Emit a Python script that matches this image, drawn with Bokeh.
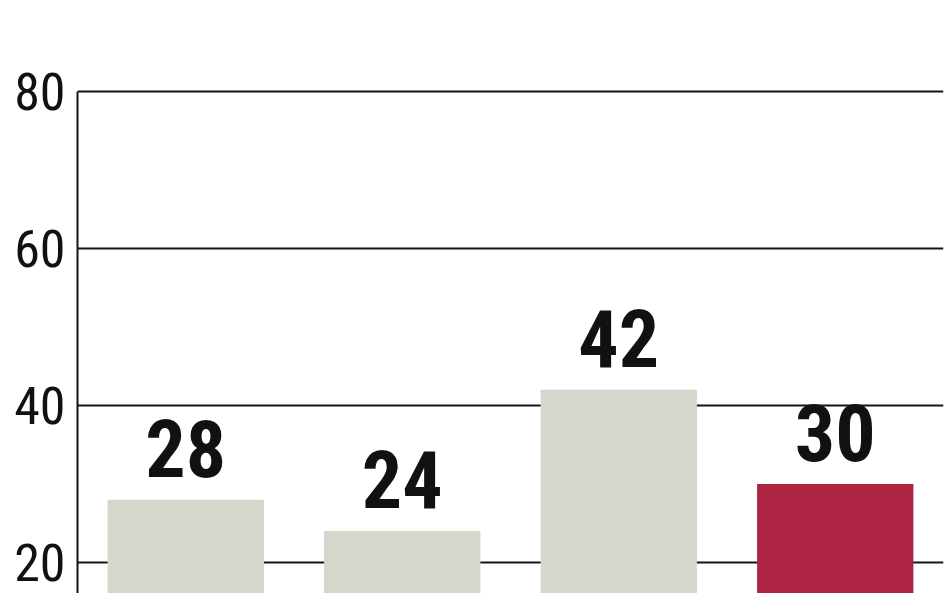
from bokeh.plotting import figure
from bokeh.models import FactorRange, Range1d, ColumnDataSource, FixedTicker, LabelSet
from bokeh.core.properties import value
from bokeh.embed import file_html
from bokeh.resources import INLINE

categories = ["1", "2", "3", "4"]
values = [28, 24, 42, 30]
colors = ["#d5d6cc", "#d5d6cc", "#d5d6cc", "#ad2443"]
labels = ["28", "24", "42", "30"]
y_ticks = [20, 40, 60, 80]

src = ColumnDataSource(dict(x=categories, top=values, color=colors, label=labels))

p = figure(width=948, height=593, output_backend="svg", toolbar_location=None,
           x_range=FactorRange(*categories, range_padding=0),
           y_range=Range1d(16.05, 91.59),
           x_axis_location=None,
           min_border_left=77, min_border_right=5, min_border_top=0, min_border_bottom=0)
p.outline_line_color = None
p.background_fill_color = "white"

p.vbar(x="x", top="top", bottom=0, width=0.722, color="color", line_color=None, source=src)
p.add_layout(LabelSet(x="x", y="top", text="label", source=src, text_align="center",
                      text_baseline="alphabetic", y_offset=23,
                      text_font=value("Roboto Condensed"), text_font_style="bold",
                      text_font_size="80px", text_color="#111111"))

p.xgrid.visible = False
p.ygrid.ticker = FixedTicker(ticks=y_ticks)
p.ygrid.grid_line_color = "#151515"
p.ygrid.grid_line_width = 2

ax = p.yaxis[0]
ax.ticker = FixedTicker(ticks=y_ticks)
ax.bounds = (0, 80)
ax.axis_line_color = "#151515"
ax.axis_line_width = 2
ax.major_tick_line_color = None
ax.minor_tick_line_color = None
ax.major_tick_out = 0
ax.major_tick_in = 0
ax.major_label_standoff = 12
ax.major_label_text_font = "Roboto Condensed"
ax.major_label_text_font_style = "normal"
ax.major_label_text_font_size = "52px"
ax.major_label_text_color = "#111111"

open("out.html", "w").write(file_html(p, INLINE))
